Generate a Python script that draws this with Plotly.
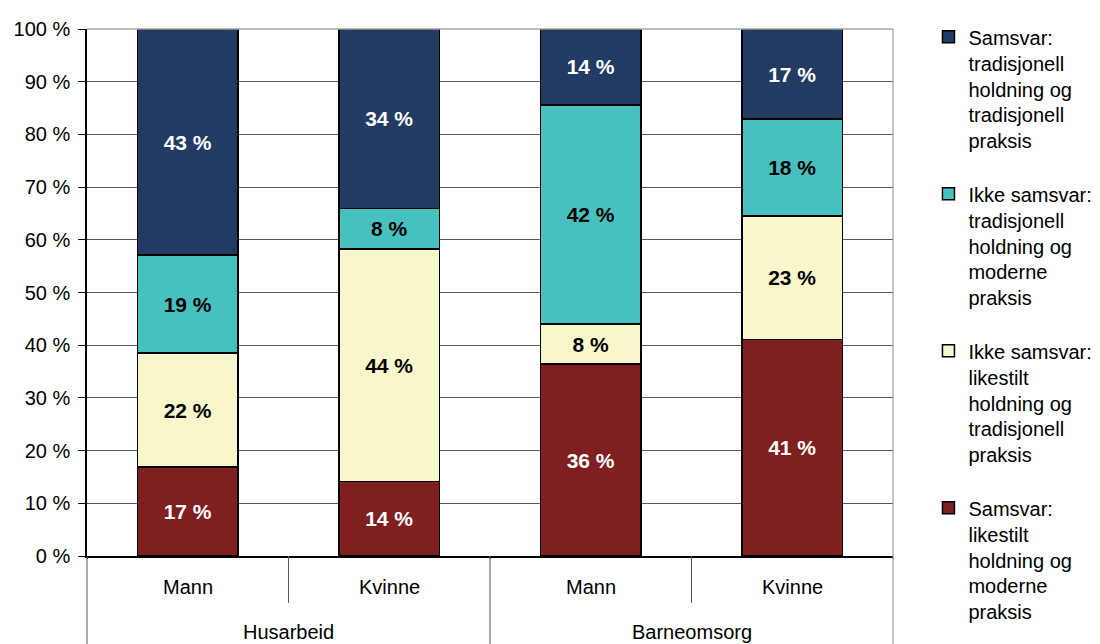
import plotly.graph_objects as go

# ---- data ----
groups = ["Husarbeid", "Husarbeid", "Barneomsorg", "Barneomsorg"]
genders = ["Mann", "Kvinne", "Mann", "Kvinne"]

series_names = [
    "Samsvar:<br>likestilt<br>holdning og<br>moderne<br>praksis",
    "Ikke samsvar:<br>likestilt<br>holdning og<br>tradisjonell<br>praksis",
    "Ikke samsvar:<br>tradisjonell<br>holdning og<br>moderne<br>praksis",
    "Samsvar:<br>tradisjonell<br>holdning og<br>tradisjonell<br>praksis",
]
likestilt_moderne = [16.9, 14.1, 36.4, 41.1]
likestilt_tradisjonell = [21.6, 44.2, 7.6, 23.4]
tradisjonell_moderne = [18.6, 7.6, 41.6, 18.4]
tradisjonell_tradisjonell = [42.9, 34.1, 14.4, 17.1]
series_values = [likestilt_moderne, likestilt_tradisjonell, tradisjonell_moderne, tradisjonell_tradisjonell]

colors = ["#7F1F1F", "#F8F7CC", "#47C1BF", "#213B63"]
text_colors = ["white", "black", "black", "white"]

y_tickvals = list(range(0, 101, 10))
y_ticktext = [f"{v} %" for v in y_tickvals]

FONT = "Liberation Sans, Arial, sans-serif"

fig = go.Figure()
n_series = len(series_names)
for i, (name, vals) in enumerate(zip(series_names, series_values)):
    fig.add_trace(go.Bar(
        x=[groups, genders],
        y=vals,
        name=name,
        legendgroup=f"g{i}",
        legendrank=n_series - i,
        marker=dict(color=colors[i], line=dict(color="black", width=1.5)),
        width=0.5,
        texttemplate="%{y:.0f} %",
        textposition="inside",
        insidetextanchor="middle",
        textangle=0,
        constraintext="none",
        insidetextfont=dict(family=FONT, size=21, color=text_colors[i], weight="bold"),
        hoverinfo="skip",
    ))

shapes = []
# plot-area border (top)
shapes.append(dict(type="line", xref="paper", yref="paper", x0=0, x1=1, y0=1, y1=1,
                   line=dict(color="#A6A6A6", width=1.5)))
# category dividers below the axis
n = len(genders)
for k in range(n + 1):
    xp = k / n
    if k == 0 or k == n:
        outer = True
    else:
        outer = groups[k - 1] != groups[k]
    y_bottom = -0.168 if outer else -0.089
    y_top = 1 if k == n else 0
    shapes.append(dict(type="line", xref="paper", yref="paper", x0=xp, x1=xp, y0=y_top, y1=y_bottom,
                       line=dict(color="#8C8C8C" if k == n else "#595959", width=1)))

annotations = []
for k, g in enumerate(genders):
    annotations.append(dict(xref="paper", yref="paper", x=(k + 0.5) / n, y=-0.059,
                            text=g, showarrow=False, yanchor="middle", xanchor="center",
                            font=dict(family=FONT, size=20, color="black")))
seen = []
for k, g in enumerate(groups):
    if g in seen:
        continue
    seen.append(g)
    idx = [j for j, gg in enumerate(groups) if gg == g]
    xc = (min(idx) + max(idx) + 1) / 2 / n
    annotations.append(dict(xref="paper", yref="paper", x=xc, y=-0.144,
                            text=g, showarrow=False, yanchor="middle", xanchor="center",
                            font=dict(family=FONT, size=20, color="black")))

fig.update_layout(
    width=1100, height=644,
    margin=dict(l=79, r=215, t=21, b=96, autoexpand=False),
    paper_bgcolor="white", plot_bgcolor="white",
    barmode="stack",
    bargap=0.5,
    font=dict(family=FONT, size=20, color="black"),
    showlegend=True,
    legend=dict(x=1.044, xanchor="left", y=1.0224, yanchor="top",
                traceorder="grouped", tracegroupgap=24, valign="top",
                maxheight=640,
                font=dict(family=FONT, size=20, color="black"),
                bgcolor="rgba(0,0,0,0)"),
    shapes=shapes,
    annotations=annotations,
)
fig.update_xaxes(type="multicategory", showticklabels=False, showline=True, linecolor="black",
                 linewidth=1.5, showgrid=False, ticks="", fixedrange=True, automargin=False)
fig.update_yaxes(range=[0, 100], tickvals=y_tickvals, ticktext=y_ticktext, showgrid=True,
                 gridcolor="#595959", gridwidth=1, showline=True, linecolor="black", linewidth=1.5,
                 ticks="outside", ticklen=7, tickcolor="black", tickwidth=1, zeroline=False,
                 ticklabelstandoff=4, tickfont=dict(family=FONT, size=20, color="black"),
                 fixedrange=True, automargin=False)

fig.write_html("out.html")
